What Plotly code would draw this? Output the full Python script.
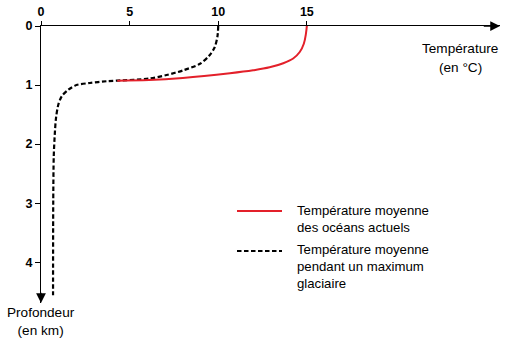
import plotly.graph_objects as go

# Mean ocean temperature profiles: temperature (°C) against depth (km)
actuel_temp = [15.0, 14.95, 14.83, 14.6, 14.23, 13.67, 12.9, 11.97, 10.66, 8.0, 6.1, 4.3]
actuel_prof = [0.0, 0.13, 0.30, 0.44, 0.55, 0.63, 0.70, 0.75, 0.80, 0.88, 0.915, 0.925]

glaciaire_temp = [10.0, 9.96, 9.8, 9.5, 8.97, 8.03, 7.09, 6.1, 4.3, 3.7, 2.76,
                  2.0, 1.54, 1.17, 0.98, 0.85, 0.79, 0.72, 0.69, 0.68]
glaciaire_prof = [0.0, 0.17, 0.36, 0.5, 0.64, 0.75, 0.83, 0.89, 0.925, 0.935, 0.965,
                  1.0, 1.08, 1.19, 1.33, 1.55, 1.77, 2.2, 3.0, 4.56]

x_ticks = [0, 5, 10, 15]
y_ticks = [0, 1, 2, 3, 4]

legend_actuel = "Température moyenne<br>des océans actuels"
legend_glaciaire = "Température moyenne<br>pendant un maximum<br>glaciaire"

W, H = 505, 338
L, T, R, B = 41, 20, 5, 35
X_MAX, Y_MAX = 25.9, 4.69

RED = "#e3202a"
FONT = "Liberation Sans, Arial, sans-serif"
DASH = "4.5px,2.5px"


def px(x):
    return (x - L) / (W - L - R)


def py(y):
    return 1 - (y - T) / (H - T - B)


fig = go.Figure()
fig.add_trace(go.Scatter(
    x=glaciaire_temp, y=glaciaire_prof, mode="lines",
    line=dict(color="black", width=2.2, dash=DASH, shape="spline", smoothing=0.8),
    hoverinfo="skip", showlegend=False))
fig.add_trace(go.Scatter(
    x=actuel_temp, y=actuel_prof, mode="lines",
    line=dict(color=RED, width=2, shape="spline", smoothing=1.0),
    hoverinfo="skip", showlegend=False))

tick_font = dict(family=FONT, size=12.5, color="black", weight="bold")
text_font = dict(family=FONT, size=13.2, color="black")
axis_font = dict(family=FONT, size=13.6, color="black")

fig.update_xaxes(
    range=[0, X_MAX], side="top", showline=True, linecolor="black", linewidth=1.3,
    ticks="outside", ticklen=4, tickwidth=1.2, tickcolor="black",
    tickvals=x_ticks, ticktext=[str(v) for v in x_ticks], tickfont=tick_font,
    showgrid=False, zeroline=False)
fig.update_yaxes(
    range=[Y_MAX, 0], showline=True, linecolor="black", linewidth=1.3,
    ticks="outside", ticklen=5, tickwidth=1.2, tickcolor="black",
    tickvals=y_ticks, ticktext=[str(v) for v in y_ticks], tickfont=tick_font,
    showgrid=False, zeroline=False)

annotations = [
    # axis arrowheads
    dict(x=X_MAX, y=0, ax=X_MAX - 1, ay=0, xref="x", yref="y", axref="x", ayref="y",
         text="", showarrow=True, arrowhead=2, arrowsize=1.5, arrowwidth=1.3,
         arrowcolor="black", standoff=0),
    dict(x=0, y=Y_MAX, ax=0, ay=Y_MAX - 0.2, xref="x", yref="y", axref="x", ayref="y",
         text="", showarrow=True, arrowhead=2, arrowsize=1.5, arrowwidth=1.3,
         arrowcolor="black", standoff=0),
    # axis titles
    dict(x=px(460), y=py(43), xref="paper", yref="paper", text="Température",
         showarrow=False, font=axis_font, xanchor="center", yanchor="middle"),
    dict(x=px(460), y=py(62), xref="paper", yref="paper", text="(en °C)",
         showarrow=False, font=axis_font, xanchor="center", yanchor="middle"),
    dict(x=px(41), y=py(322), xref="paper", yref="paper", text="Profondeur<br>(en km)",
         showarrow=False, font=axis_font, xanchor="center", yanchor="middle",
         align="center"),
    # legend labels
    dict(x=px(295), y=py(217), xref="paper", yref="paper", text=legend_actuel,
         showarrow=False, font=text_font, xanchor="left", yanchor="middle", align="left"),
    dict(x=px(295), y=py(266), xref="paper", yref="paper", text=legend_glaciaire,
         showarrow=False, font=text_font, xanchor="left", yanchor="middle", align="left"),
]

shapes = [
    dict(type="line", xref="paper", yref="paper", x0=px(237), x1=px(282),
         y0=py(209), y1=py(209), line=dict(color=RED, width=2)),
    dict(type="line", xref="paper", yref="paper", x0=px(237), x1=px(282),
         y0=py(250), y1=py(250), line=dict(color="black", width=2, dash=DASH)),
]

fig.update_layout(
    width=W, height=H, margin=dict(l=L, r=R, t=T, b=B),
    paper_bgcolor="white", plot_bgcolor="white",
    annotations=annotations, shapes=shapes, showlegend=False)

fig.write_html("out.html", config={"displayModeBar": False})
